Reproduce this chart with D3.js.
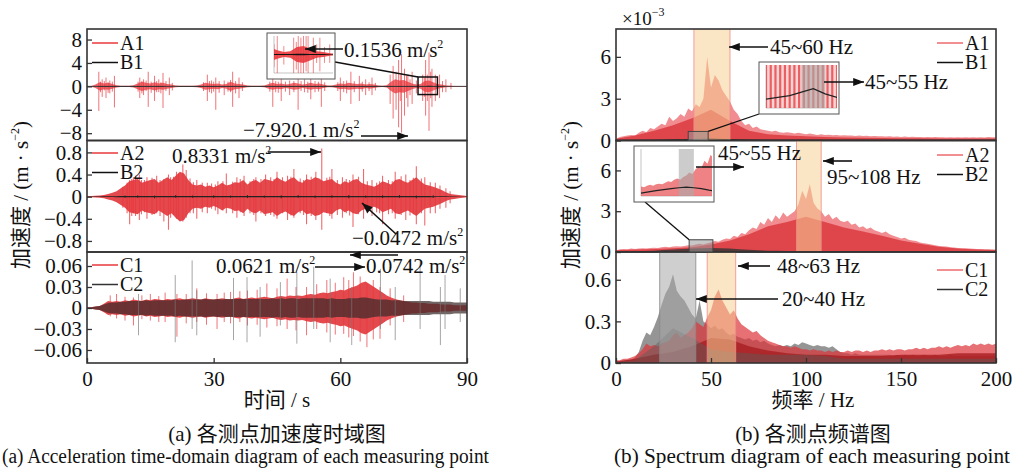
<!DOCTYPE html>
<html>
<head>
<meta charset="utf-8">
<script src="https://cdn.jsdelivr.net/npm/d3@7"></script>
<style>
  body { margin: 0; background: #fff; }
  text { font-family: "Liberation Serif", "Times New Roman", "Noto Sans CJK SC", serif; fill: #111; }
</style>
</head>
<body>
<svg id="chart" width="1014" height="468"></svg>
<script>
// ---------- data ----------
const timeTicks = [0, 30, 60, 90];
const freqTicks = [0, 50, 100, 150, 200];
const a1Ticks = [-8, -4, 0, 4, 8];
const a2Ticks = [-0.8, -0.4, 0, 0.4, 0.8];
const c1Ticks = [-0.06, -0.03, 0, 0.03, 0.06];
const specTicks12 = [0, 3, 6];
const specTicks3 = [0, 0.3, 0.6];

// time-domain envelopes, one value per second (0..90 s)
const envStep = 1;
const a1Env = [0.05,0.08,0.3,0.7,0.5,0.6,0.4,0.2,0.1,0.1, 0.12,0.2,0.5,0.8,0.6,0.5,0.7,0.5,0.6,0.4,
  0.3,0.15,0.1,0.1,0.1,0.1,0.15,0.3,0.6,0.5, 0.4,0.5,0.3,0.4,0.8,0.5,0.4,0.3,0.15,0.1,
  0.1,0.1,0.15,0.4,0.6,0.4,0.5,0.3,0.4,0.6, 0.5,0.3,0.4,0.6,0.4,0.5,0.3,0.15,0.15,0.3,
  0.5,0.4,0.6,0.5,0.4,0.5,0.3,0.4,0.3,0.15, 0.1,0.2,0.8,1.2,1.0,1.1,0.8,0.5,0.3,0.4,
  0.9,1.0,0.7,0.4,0.3,0.15,0.1,0.08,0.05,0.05, 0.05];
const a1Spikes = [[2.8,2.5,-4.2],[3.2,0.8,-1.0],[3.6,1.2,-1.8],[4.1,0.9,-0.7],[4.5,1.5,-2.0],[5.0,0.7,-1.1],[5.4,1.0,-1.2],[6.0,0.8,-0.9],[6.5,1.8,-3.6],
  [12.1,0.8,-0.9],[12.5,1.5,-2.0],[13.0,0.9,-1.2],[13.4,1.2,-1.5],[14.0,1.0,-0.8],[14.5,2.5,-3.5],[15.2,0.8,-1.1],[16,1.8,-2.5],[16.5,0.9,-1.0],
  [17,1.2,-1.0],[17.5,0.7,-1.2],[18,2.3,-3.7],[18.7,0.9,-0.8],[19.5,1.5,-1.5],[20.2,0.6,-0.7],
  [27.6,0.7,-0.8],[28.5,2.0,-2.5],[29.0,0.9,-1.0],[29.5,1.0,-1.2],[30.0,0.8,-0.9],[30.5,1.5,-4.0],[31.3,0.9,-1.1],[32.5,1.0,-1.5],
  [33.4,0.8,-0.9],[34.0,1.1,-1.0],[34.5,2.5,-3.5],[35.2,0.9,-1.2],[36,1.5,-2.0],[36.8,0.7,-0.8],
  [43.3,0.8,-0.9],[44,2.0,-3.5],[44.7,0.9,-1.0],[45.3,0.8,-1.1],[46,1.5,-2.5],[47.0,0.8,-0.9],[48,1.0,-1.5],[49.0,0.9,-1.0],[50,1.5,-4.0],
  [50.7,0.9,-0.8],[51.5,1.2,-1.0],[52.3,0.8,-1.1],[53,2.5,-2.2],[54.0,0.9,-1.0],[54.8,0.8,-0.9],[55.5,2.0,-3.5],[56.3,0.7,-0.8],
  [59.4,0.7,-0.8],[60,1.5,-2.5],[60.8,0.9,-1.0],[61.5,1.0,-1.2],[62.5,2.5,-3.0],[63.3,0.9,-1.0],[64.5,1.8,-2.5],[65.2,0.8,-0.9],
  [66,1.2,-1.5],[66.8,0.7,-0.8],[67.5,1.5,-1.5],[68.3,0.6,-0.7],
  [71.8,2.0,-3.0],[72.5,3.5,-5.5],[73.2,2.5,-4.0],[73.8,4.5,-7.0],[74.2,2.0,-2.5],[74.5,5.5,-7.9],[75.2,3.0,-5.0],[75.7,1.8,-2.0],
  [76,2.0,-3.5],[76.5,1.2,-1.5],[77,2.5,-3.0],[78.0,1.0,-1.2],
  [79.5,2.0,-2.5],[79.9,1.5,-1.8],[80.2,4.5,-5.0],[80.6,2.0,-2.5],[81,5.8,-7.6],[81.4,2.5,-2.0],[81.7,3.0,-3.5],[82.5,2.0,-2.5],
  [83.0,1.2,-1.0],[83.5,2.0,-2.0],[84.2,0.9,-1.0],[85,1.2,-1.0],[86.2,0.6,-0.5]];
const b1Env = [0.02,0.03,0.04,0.05,0.05,0.05,0.05,0.05,0.05,0.05,0.05,0.05,0.05,0.05,0.06,0.06,0.08,0.08,0.05,0.03,
  0.03,0.04,0.05,0.05,0.05,0.05,0.05,0.05,0.05,0.05,0.05,0.05,0.05,0.05,0.05,0.05,0.05,0.05,0.05,0.05,
  0.05,0.05,0.05,0.05,0.05,0.05,0.05,0.05,0.05,0.05,0.05,0.05,0.05,0.05,0.05,0.05,0.05,0.05,0.05,0.05,
  0.05,0.05,0.05,0.05,0.05,0.05,0.05,0.05,0.05,0.05,0.05,0.05,0.06,0.07,0.07,0.07,0.06,0.05,0.05,0.06,
  0.08,0.1,0.07,0.05,0.05,0.04,0.03,0.03,0.02,0.02,0.02];

const a2Env = [0.01,0.01,0.015,0.02,0.03,0.05,0.07,0.1,0.15,0.2, 0.28,0.3,0.32,0.25,0.28,0.3,0.32,0.25,0.3,0.35,
  0.3,0.38,0.45,0.42,0.3,0.22,0.2,0.22,0.18,0.2, 0.17,0.2,0.25,0.2,0.22,0.26,0.25,0.3,0.22,0.28,
  0.3,0.25,0.32,0.3,0.28,0.35,0.3,0.27,0.32,0.35, 0.28,0.25,0.32,0.3,0.35,0.33,0.28,0.3,0.32,0.25,
  0.22,0.28,0.25,0.3,0.32,0.25,0.22,0.2,0.18,0.22, 0.28,0.25,0.22,0.3,0.32,0.28,0.25,0.3,0.35,0.28,
  0.22,0.2,0.18,0.15,0.12,0.08,0.05,0.04,0.03,0.02, 0.01];
const a2Spikes = [[9.5,0.25,-0.3],[10.1,0.3,-0.5],[11.5,0.38,-0.35],[12.4,0.4,-0.42],[14.2,0.35,-0.4],[16.5,0.38,-0.3],
  [18.2,0.32,-0.45],[19.3,0.4,-0.6],[21.2,0.45,-0.4],[22.7,0.58,-0.45],[23.5,0.48,-0.38],[26,0.3,-0.4],[28.5,0.25,-0.3],
  [31,0.28,-0.32],[33,0.42,-0.3],[35.5,0.35,-0.38],[37.2,0.38,-0.35],[40,0.35,-0.45],[42.3,0.4,-0.35],[45,0.45,-0.4],
  [47.5,0.38,-0.42],[49,0.5,-0.38],[52,0.4,-0.5],[54.2,0.45,-0.42],[55.6,0.87,-0.6],[58,0.5,-0.4],[60.5,0.35,-0.38],
  [63,0.4,-0.55],[65.5,0.5,-0.4],[67.5,0.3,-0.35],[70,0.38,-0.5],[73,0.45,-0.4],[75.5,0.4,-0.42],[78,0.55,-0.5],
  [80,0.35,-0.52],[82.5,0.25,-0.3],[85,0.15,-0.2],
  [8.5,0.18,-0.2],[10.6,0.32,-0.35],[11,0.35,-0.3],[12.9,0.3,-0.32],[13.6,0.3,-0.28],[15.4,0.34,-0.33],[17.3,0.3,-0.35],
  [19.8,0.35,-0.38],[20.5,0.36,-0.33],[21.7,0.42,-0.4],[24.4,0.33,-0.3],[25.2,0.26,-0.3],[27.3,0.25,-0.28],[29.5,0.24,-0.22],
  [30.4,0.22,-0.25],[32.2,0.28,-0.25],[34.5,0.27,-0.3],[36.3,0.32,-0.28],[38.6,0.28,-0.3],[39.5,0.32,-0.33],[41.2,0.32,-0.3],
  [43.5,0.35,-0.33],[44.3,0.32,-0.36],[46.3,0.35,-0.3],[48.3,0.36,-0.34],[50.5,0.33,-0.3],[51.3,0.3,-0.33],[53.1,0.36,-0.35],
  [56.8,0.34,-0.3],[57.5,0.36,-0.35],[59.3,0.3,-0.33],[61.4,0.32,-0.3],[62.2,0.3,-0.34],[64.3,0.36,-0.32],[66.4,0.28,-0.3],
  [68.6,0.25,-0.28],[69.3,0.28,-0.3],[71.4,0.3,-0.32],[72.3,0.28,-0.3],[74.4,0.37,-0.33],[76.5,0.3,-0.34],[77.3,0.34,-0.32],
  [79.2,0.33,-0.3],[81.3,0.26,-0.3],[83.6,0.2,-0.22],[86,0.1,-0.12]];
const b2Env = [0.002,0.003,0.004,0.005,0.006,0.007,0.008,0.009,0.01,0.01, 0.011,0.011,0.012,0.012,0.012,0.012,0.012,0.012,0.012,0.012,
  0.012,0.012,0.012,0.012,0.012,0.012,0.012,0.012,0.012,0.012, 0.012,0.012,0.012,0.012,0.012,0.012,0.012,0.012,0.012,0.012,
  0.012,0.012,0.012,0.012,0.012,0.012,0.012,0.012,0.012,0.012, 0.012,0.012,0.012,0.012,0.012,0.012,0.012,0.012,0.012,0.012,
  0.012,0.012,0.012,0.012,0.012,0.012,0.012,0.012,0.012,0.012, 0.012,0.012,0.012,0.012,0.012,0.012,0.012,0.012,0.011,0.011,
  0.01,0.01,0.009,0.008,0.007,0.006,0.005,0.004,0.003,0.003, 0.002];
const b2Spikes = [[9,0.02,-0.02],[12,0.025,-0.02],[16,0.02,-0.03],[21,0.03,-0.02],[25,0.02,-0.02],[30,0.025,-0.025],
  [34,0.02,-0.02],[38,0.03,-0.025],[42,0.02,-0.02],[46,0.025,-0.03],[50,0.03,-0.02],[54,0.02,-0.025],[58,0.025,-0.02],
  [62,0.03,-0.03],[66,0.02,-0.02],[70,0.025,-0.025],[74,0.03,-0.02],[78,0.02,-0.03],[82,0.025,-0.02]];

const c1Env = [0.001,0.001,0.002,0.003,0.006,0.01,0.009,0.01,0.009,0.011, 0.01,0.012,0.011,0.01,0.012,0.011,0.013,0.012,0.011,0.013,
  0.012,0.013,0.014,0.012,0.013,0.014,0.013,0.012,0.014,0.013, 0.012,0.013,0.014,0.013,0.012,0.014,0.015,0.013,0.014,0.015,
  0.014,0.015,0.016,0.015,0.014,0.016,0.017,0.016,0.018,0.017, 0.018,0.017,0.019,0.02,0.019,0.021,0.022,0.021,0.023,0.024,
  0.026,0.025,0.028,0.03,0.032,0.036,0.038,0.034,0.03,0.026, 0.022,0.018,0.015,0.013,0.011,0.01,0.009,0.008,0.008,0.007,
  0.007,0.006,0.006,0.006,0.005,0.005,0.005,0.004,0.004,0.004, 0.004];
const c2Env = [0.001,0.001,0.002,0.003,0.005,0.007,0.008,0.008,0.009,0.009, 0.01,0.01,0.01,0.01,0.011,0.01,0.011,0.011,0.011,0.011,
  0.011,0.012,0.011,0.012,0.012,0.012,0.012,0.012,0.013,0.012, 0.012,0.013,0.012,0.013,0.013,0.013,0.013,0.013,0.013,0.013,
  0.013,0.013,0.013,0.013,0.014,0.013,0.014,0.013,0.014,0.014, 0.013,0.014,0.014,0.014,0.014,0.014,0.014,0.013,0.014,0.013,
  0.013,0.013,0.014,0.014,0.014,0.015,0.015,0.014,0.013,0.012, 0.012,0.012,0.011,0.011,0.011,0.01,0.01,0.01,0.01,0.01,
  0.01,0.01,0.009,0.009,0.009,0.009,0.009,0.008,0.008,0.008, 0.008];
const c1Spikes = [[5.5,0.018,-0.012],[7,0.02,-0.015],[9,0.016,-0.018],[11,0.015,-0.025],[13,0.018,-0.016],[15,0.02,-0.018],
  [17,0.017,-0.02],[18.5,0.022,-0.02],[21.3,0.02,-0.041],[23.5,0.02,-0.022],[26,0.028,-0.02],[28.3,0.021,-0.024],
  [30.8,0.02,-0.03],[32.5,0.022,-0.02],[34,0.023,-0.022],[36.2,0.024,-0.02],[38,0.025,-0.025],[40.3,0.026,-0.024],
  [42.6,0.035,-0.028],[45,0.028,-0.026],[47.4,0.042,-0.03],[49.5,0.03,-0.032],[52,0.03,-0.039],[54.4,0.034,-0.03],
  [56.8,0.04,-0.035],[58.8,0.036,-0.038],[60.8,0.044,-0.037],[62,0.04,-0.042],[63.1,0.051,-0.04],[64.7,0.045,-0.048],
  [66.3,0.035,-0.056],[67.8,0.04,-0.045],[69.4,0.03,-0.044],[71.8,0.028,-0.025],[75,0.018,-0.02]];
const c2Spikes = [[12.2,0.02,-0.039],[20.9,0.047,-0.049],[24.9,0.068,-0.03],[26,0.025,-0.039],[34.7,0.043,-0.046],
  [37.9,0.044,-0.049],[41,0.03,-0.041],[45.8,0.037,-0.025],[49.7,0.051,-0.051],[53.7,0.059,-0.03],[57.6,0.042,-0.049],
  [62.7,0.03,-0.053],[69.5,0.056,-0.03],[73,0.03,-0.046],[78.9,0.068,-0.03],[83.7,0.03,-0.053],[84.8,0.047,-0.03],[88.4,0.028,-0.02]];

// spectra: peak envelope every 2 Hz, dense core every 10 Hz, black series every 5 Hz
const peakStep = 2, coreStep = 10, lowStep = 5;
const a1Peak = [0.1,0.25,0.3,0.35,0.4,0.35,0.55,0.7,0.6,0.9, 0.8,1.0,1.2,1.1,1.7,1.4,1.6,1.9,1.7,2.3,
  2.1,2.6,2.4,3.0,6.0,3.8,4.7,4.3,3.6,3.2, 2.8,2.2,1.9,1.4,1.1,1.2,0.9,1.0,0.8,0.75,
  0.7,0.65,0.7,0.6,0.55,0.6,0.55,0.5,0.55,0.5, 0.45,0.5,0.45,0.4,0.45,0.4,0.42,0.38,0.4,0.35,
  0.38,0.35,0.36,0.33,0.35,0.32,0.34,0.3,0.32,0.3, 0.31,0.28,0.3,0.27,0.29,0.26,0.28,0.25,0.27,0.25,
  0.26,0.24,0.25,0.23,0.25,0.23,0.24,0.22,0.24,0.22, 0.23,0.22,0.23,0.21,0.23,0.22,0.24,0.22,0.25,0.23, 0.24];
const a1Core = [0.12,0.35,0.7,1.1,1.6,2.2,1.4,0.7,0.45,0.36,0.3,0.26,0.22,0.2,0.18,0.17,0.16,0.15,0.15,0.15,0.15];
const b1Low = [0.01,0.015,0.02,0.025,0.03,0.04,0.05,0.06,0.07,0.09,0.11,0.08,0.06,0.05,0.04,0.035,0.03,0.03,0.03,0.03,
  0.03,0.03,0.025,0.025,0.025,0.025,0.025,0.02,0.02,0.02,0.02,0.02,0.02,0.02,0.02,0.02,0.02,0.02,0.02,0.02,0.02];

const a2Peak = [0.1,0.2,0.22,0.2,0.25,0.22,0.25,0.28,0.25,0.3, 0.32,0.3,0.35,0.38,0.35,0.4,0.42,0.4,0.45,0.5,
  0.48,0.55,0.6,0.55,0.65,0.7,0.8,0.75,0.9,1.0, 0.95,1.2,1.1,1.4,1.3,1.6,1.8,1.7,2.2,2.0,
  2.5,2.2,2.7,2.4,2.9,2.6,2.8,3.0,3.5,4.5, 3.9,5.0,3.6,3.2,3.0,2.6,2.8,2.4,2.6,2.3,
  2.2,2.3,2.0,2.1,1.8,1.9,1.7,1.8,1.6,1.5, 1.4,1.5,1.3,1.2,1.1,1.0,1.05,0.9,0.85,0.8,
  0.7,0.65,0.6,0.55,0.5,0.45,0.42,0.4,0.35,0.33, 0.3,0.28,0.27,0.25,0.24,0.22,0.22,0.2,0.2,0.19, 0.18];
const a2Core = [0.12,0.18,0.22,0.28,0.35,0.55,0.85,1.3,1.9,2.2,2.6,2.2,1.8,1.5,1.2,0.85,0.6,0.38,0.25,0.18,0.14];
const b2Low = [0.02,0.04,0.06,0.08,0.1,0.14,0.18,0.22,0.25,0.28,0.3,0.28,0.25,0.2,0.16,0.12,0.1,0.09,0.08,0.08,
  0.07,0.07,0.06,0.06,0.05,0.05,0.05,0.05,0.04,0.04,0.04,0.04,0.04,0.04,0.04,0.04,0.03,0.03,0.03,0.03,0.03];

const c1Peak = [0.02,0.02,0.03,0.03,0.04,0.05,0.07,0.1,0.14,0.12, 0.13,0.12,0.14,0.15,0.16,0.2,0.22,0.18,0.2,0.22,
  0.25,0.3,0.28,0.26,0.33,0.38,0.48,0.53,0.45,0.4, 0.35,0.38,0.32,0.28,0.26,0.24,0.22,0.23,0.2,0.18,
  0.16,0.15,0.14,0.13,0.12,0.12,0.11,0.12,0.11,0.1, 0.1,0.09,0.1,0.09,0.09,0.08,0.09,0.08,0.09,0.08,
  0.08,0.09,0.08,0.09,0.09,0.08,0.09,0.08,0.09,0.09, 0.1,0.09,0.1,0.09,0.1,0.1,0.09,0.1,0.1,0.11,
  0.1,0.11,0.1,0.11,0.11,0.12,0.11,0.12,0.11,0.12, 0.13,0.12,0.13,0.12,0.14,0.13,0.14,0.13,0.14,0.13, 0.14];
const c1Core = [0.01,0.03,0.06,0.08,0.12,0.18,0.17,0.12,0.09,0.07,0.06,0.06,0.05,0.05,0.05,0.06,0.06,0.06,0.07,0.07,0.07];
const c2Peak = [0.01,0.01,0.015,0.02,0.02,0.04,0.08,0.16,0.22,0.2, 0.26,0.33,0.42,0.5,0.55,0.64,0.52,0.48,0.45,0.4,
  0.35,0.32,0.45,0.3,0.28,0.25,0.27,0.24,0.25,0.22, 0.2,0.21,0.19,0.18,0.17,0.18,0.16,0.17,0.15,0.16,
  0.14,0.13,0.12,0.13,0.12,0.13,0.12,0.14,0.13,0.15, 0.14,0.13,0.12,0.13,0.12,0.12,0.11,0.12,0.1,0.08,
  0.07,0.07,0.06,0.07,0.06,0.06,0.06,0.06,0.06,0.06, 0.06,0.06,0.06,0.05,0.06,0.05,0.06,0.05,0.06,0.05,
  0.05,0.06,0.05,0.05,0.06,0.05,0.05,0.05,0.06,0.05, 0.05,0.05,0.05,0.05,0.05,0.05,0.05,0.05,0.05,0.05, 0.05];
const c2Core = [0.005,0.02,0.12,0.25,0.18,0.1,0.08,0.07,0.06,0.06,0.06,0.05,0.03,0.03,0.03,0.03,0.03,0.03,0.03,0.03,0.03];

// highlighted frequency bands (Hz) and zoom windows
const bandA1 = [41, 60], bandA2 = [95, 108], bandC1 = [48, 63], bandC2 = [23, 42];
const zoomBand = [45, 55];
const zoomBoxR1 = [38, 48.5, 0, 0.65], zoomBoxR2 = [38.5, 51, 0, 0.9];
const zoomBoxL1 = [78.4, 83, -1.4, 1.6];

// ---------- layout ----------
const svg = d3.select("#chart");
const defs = svg.append("defs");
const rows = [[29, 140.5], [140.5, 252], [252, 363]];
const red = "#e8383d";
const fontSize = 21;

defs.append("marker").attr("id", "arrow")
  .attr("viewBox", "0 -5 12 10").attr("refX", 12).attr("refY", 0)
  .attr("markerWidth", 12).attr("markerHeight", 9)
  .attr("markerUnits", "userSpaceOnUse").attr("orient", "auto")
  .append("path").attr("d", "M0,-4.5L12,0L0,4.5Z").attr("fill", "#111");

const xTime = d3.scaleLinear().domain([0, 90]).range([87, 467]);
const xFreq = d3.scaleLinear().domain([0, 200]).range([616, 996]);

const fmt = d => d < 0 ? "\u2212" + Math.abs(d) : String(d);

let clipCount = 0;
function panel(x, row, yDomain, ticks) {
  const [top, bottom] = rows[row];
  const y = d3.scaleLinear().domain(yDomain).range([bottom, top]);
  const id = "clip" + (clipCount++);
  defs.append("clipPath").attr("id", id).append("rect")
    .attr("x", x.range()[0]).attr("y", top)
    .attr("width", x.range()[1] - x.range()[0]).attr("height", bottom - top);
  const g = svg.append("g").attr("clip-path", `url(#${id})`);
  return { x, y, g, top, bottom, ticks };
}

function frame(p) {
  // y axis with inward ticks
  const ax = svg.append("g").attr("transform", `translate(${p.x.range()[0]},0)`)
    .call(d3.axisLeft(p.y).tickValues(p.ticks).tickSize(-5).tickPadding(5).tickFormat(fmt));
  ax.select(".domain").remove();
  ax.selectAll("line").attr("stroke", "#333").attr("stroke-width", 1.3);
  ax.selectAll("text").attr("font-size", fontSize)
    .attr("font-family", "Liberation Serif, Times New Roman, serif").attr("fill", "#111");
  svg.append("rect").attr("x", p.x.range()[0]).attr("y", p.top)
    .attr("width", p.x.range()[1] - p.x.range()[0]).attr("height", p.bottom - p.top)
    .attr("fill", "none").attr("stroke", "#333").attr("stroke-width", 1.6);
}

function xAxis(p, ticks) {
  const ax = svg.append("g").attr("transform", `translate(0,${p.bottom})`)
    .call(d3.axisBottom(p.x).tickValues(ticks).tickSize(-5).tickPadding(8));
  ax.select(".domain").remove();
  ax.selectAll("line").attr("stroke", "#333").attr("stroke-width", 1.3);
  ax.selectAll("text").attr("font-size", fontSize)
    .attr("font-family", "Liberation Serif, Times New Roman, serif").attr("fill", "#111");
}

function envelope(g, x, y, values, step, color, opacity) {
  const area = d3.area().x((d, i) => x(i * step)).y0(d => y(-d)).y1(d => y(d));
  g.append("path").datum(values).attr("d", area).attr("fill", color).attr("fill-opacity", opacity);
}

function spikes(g, x, y, list, color, opacity, width) {
  g.selectAll(null).data(list).join("line")
    .attr("x1", d => x(d[0])).attr("x2", d => x(d[0]))
    .attr("y1", d => y(d[1])).attr("y2", d => y(d[2]))
    .attr("stroke", color).attr("stroke-opacity", opacity).attr("stroke-width", width);
}

function spectrum(g, x, y, values, step, color, opacity) {
  const area = d3.area().x((d, i) => x(i * step)).y0(y(0)).y1(d => y(d));
  g.append("path").datum(values).attr("d", area).attr("fill", color).attr("fill-opacity", opacity);
}

function specLine(g, x, y, values, step, color, width) {
  const line = d3.line().x((d, i) => x(i * step)).y(d => y(d));
  g.append("path").datum(values).attr("d", line).attr("fill", "none")
    .attr("stroke", color).attr("stroke-width", width);
}

function band(g, p, range, fill, edge) {
  g.append("rect").attr("x", p.x(range[0])).attr("y", p.top)
    .attr("width", p.x(range[1]) - p.x(range[0])).attr("height", p.bottom - p.top)
    .attr("fill", fill).attr("fill-opacity", 0.55);
  [range[0], range[1]].forEach(v => g.append("line")
    .attr("x1", p.x(v)).attr("x2", p.x(v)).attr("y1", p.top).attr("y2", p.bottom)
    .attr("stroke", edge).attr("stroke-width", 1).attr("stroke-opacity", 0.8));
}

function legend(x0, y0, items) {
  items.forEach((it, i) => {
    const yy = y0 + i * 19.5;
    svg.append("line").attr("x1", x0).attr("x2", x0 + 26).attr("y1", yy).attr("y2", yy)
      .attr("stroke", it.color).attr("stroke-width", 1.5);
    svg.append("text").attr("x", x0 + 28).attr("y", yy + 6.5).attr("font-size", 20).text(it.name);
  });
}

function label(x, y, main, sup, size) {
  const t = svg.append("text").attr("x", x).attr("y", y).attr("font-size", size || fontSize);
  t.append("tspan").text(main);
  if (sup) t.append("tspan").attr("dy", -9).attr("font-size", 12).text(sup);
  return t;
}

function arrow(x1, y1, x2, y2) {
  svg.append("line").attr("x1", x1).attr("y1", y1).attr("x2", x2).attr("y2", y2)
    .attr("stroke", "#111").attr("stroke-width", 1.6).attr("marker-end", "url(#arrow)");
}

function insetBox(x, y, w, h) {
  svg.append("rect").attr("x", x).attr("y", y).attr("width", w).attr("height", h)
    .attr("fill", "#fff").attr("stroke", "#555").attr("stroke-width", 1);
  const id = "clip" + (clipCount++);
  defs.append("clipPath").attr("id", id).append("rect")
    .attr("x", x + 7).attr("y", y + 3).attr("width", w - 9).attr("height", h - 9);
  svg.append("path").attr("d", `M${x + 7},${y + 3}V${y + h - 6}H${x + w - 2}`)
    .attr("fill", "none").attr("stroke", "#aaa").attr("stroke-width", 0.7);
  return svg.append("g").attr("clip-path", `url(#${id})`);
}

// ---------- (a) time domain ----------
const L1 = panel(xTime, 0, [-9.25, 9.8], a1Ticks);
envelope(L1.g, xTime, L1.y, a1Env, envStep, red, 0.75);
spikes(L1.g, xTime, L1.y, a1Spikes, red, 0.7, 1);
envelope(L1.g, xTime, L1.y, b1Env, envStep, "#222", 1);
L1.g.append("line").attr("x1", 87).attr("x2", 467).attr("y1", L1.y(0)).attr("y2", L1.y(0))
  .attr("stroke", "#333").attr("stroke-width", 0.8);
frame(L1);

const L2 = panel(xTime, 1, [-1.0, 1.015], a2Ticks);
envelope(L2.g, xTime, L2.y, a2Env, envStep, "#e23a3e", 0.92);
spikes(L2.g, xTime, L2.y, a2Spikes, red, 0.75, 1.1);
envelope(L2.g, xTime, L2.y, b2Env, envStep, "#222", 1);
spikes(L2.g, xTime, L2.y, b2Spikes, "#222", 0.9, 1);
frame(L2);

const L3 = panel(xTime, 2, [-0.0786, 0.080], c1Ticks);
envelope(L3.g, xTime, L3.y, c1Env, envStep, "#e23a3e", 0.92);
spikes(L3.g, xTime, L3.y, c1Spikes, red, 0.7, 1);
envelope(L3.g, xTime, L3.y, c2Env, envStep, "#3b2a2a", 0.72);
spikes(L3.g, xTime, L3.y, c2Spikes, "#777", 0.65, 1);
frame(L3);
xAxis(L3, timeTicks);

legend(92, 43, [{ name: "A1", color: red }, { name: "B1", color: "#111" }]);
legend(92, 153, [{ name: "A2", color: red }, { name: "B2", color: "#111" }]);
legend(92, 265, [{ name: "C1", color: red }, { name: "C2", color: "#333" }]);

// zoom box on A1 and its inset
svg.append("rect").attr("x", xTime(zoomBoxL1[0])).attr("y", L1.y(zoomBoxL1[3]))
  .attr("width", xTime(zoomBoxL1[1]) - xTime(zoomBoxL1[0]))
  .attr("height", L1.y(zoomBoxL1[2]) - L1.y(zoomBoxL1[3]))
  .attr("fill", "none").attr("stroke", "#111").attr("stroke-width", 1.5);
svg.append("line").attr("x1", 335).attr("y1", 62).attr("x2", xTime(zoomBoxL1[0])).attr("y2", L1.y(zoomBoxL1[3]))
  .attr("stroke", "#111").attr("stroke-width", 1.3);
const inL = insetBox(267, 33, 68, 46);
const xInL = d3.scaleLinear().domain([76.5, 85.5]).range([274, 333]);
const yInL = d3.scaleLinear().domain([-2.2, 2.2]).range([73, 36]);
envelope(inL, xInL, yInL, a1Env, envStep, red, 0.9);
spikes(inL, xInL, yInL, a1Spikes, red, 0.6, 1);
envelope(inL, xInL, yInL, b1Env, envStep, "#111", 1);

label(344, 57, "0.1536 m/s", "2");
arrow(343, 49, 305, 49);
label(243, 137, "\u22127.920.1 m/s", "2");
arrow(361, 136, 408, 136);
label(172, 163, "0.8331 m/s", "2");
arrow(268, 152, 321, 152);
label(352, 245, "\u22120.0472 m/s", "2");
arrow(396, 234, 362, 203);
label(216, 273, "0.0621 m/s", "2");
arrow(315, 267, 365, 267);
label(366, 273, "0.0742 m/s", "2");
arrow(398, 255, 350, 255);

// ---------- (b) spectra ----------
const R1 = panel(xFreq, 0, [0, 8.0], specTicks12);
spectrum(R1.g, xFreq, R1.y, a1Peak, peakStep, "#ee7175", 0.8);
spectrum(R1.g, xFreq, R1.y, a1Core, coreStep, "#dc3a3f", 0.85);
specLine(R1.g, xFreq, R1.y, b1Low, lowStep, "#222", 1);
band(R1.g, R1, bandA1, "#f5cf94", "#f08a8a");
frame(R1);

const R2 = panel(xFreq, 1, [0, 8.2], specTicks12);
spectrum(R2.g, xFreq, R2.y, a2Peak, peakStep, "#ee7175", 0.8);
spectrum(R2.g, xFreq, R2.y, a2Core, coreStep, "#dc3a3f", 0.85);
spectrum(R2.g, xFreq, R2.y, b2Low, lowStep, "#333", 0.8);
band(R2.g, R2, bandA2, "#f5cf94", "#f08a8a");
frame(R2);

const R3 = panel(xFreq, 2, [0, 0.8], specTicks3);
spectrum(R3.g, xFreq, R3.y, c2Peak, peakStep, "#7a7a7a", 0.8);
spectrum(R3.g, xFreq, R3.y, c1Peak, peakStep, "#dc3338", 0.7);
spectrum(R3.g, xFreq, R3.y, c1Core, coreStep, "#a81e22", 0.8);
spectrum(R3.g, xFreq, R3.y, c2Core, coreStep, "#5a5a5a", 0.45);
band(R3.g, R3, bandC2, "#a8a8a8", "#888");
band(R3.g, R3, bandC1, "#f5cf94", "#f08a8a");
frame(R3);
xAxis(R3, freqTicks);

legend(937, 43, [{ name: "A1", color: "#ee6a6e" }, { name: "B1", color: "#111" }]);
legend(937, 155, [{ name: "A2", color: "#ee6a6e" }, { name: "B2", color: "#111" }]);
legend(937, 270, [{ name: "C1", color: "#ee6a6e" }, { name: "C2", color: "#333" }]);

// zoom boxes + insets on the spectra
function zoomBox(p, b) {
  svg.append("rect").attr("x", p.x(b[0])).attr("y", p.y(b[3]))
    .attr("width", p.x(b[1]) - p.x(b[0])).attr("height", p.y(b[2]) - p.y(b[3]))
    .attr("fill", "#999").attr("fill-opacity", 0.55).attr("stroke", "#444").attr("stroke-width", 1);
}
zoomBox(R1, zoomBoxR1);
svg.append("line").attr("x1", xFreq(zoomBoxR1[1])).attr("y1", R1.y(zoomBoxR1[3]))
  .attr("x2", 759).attr("y2", 114).attr("stroke", "#111").attr("stroke-width", 1.3);
const inR1 = insetBox(759, 62, 80, 52);
const xInR1 = d3.scaleLinear().domain([30, 60]).range([766, 837]);
const yInR1 = d3.scaleLinear().domain([0, 0.25]).range([108, 64]);
spectrum(inR1, xInR1, yInR1, a1Peak, peakStep, "#f6b8b8", 0.6);
spikes(inR1, xInR1, yInR1, a1Peak.map((v, i) => [i * peakStep, v, 0]), "#e54a4e", 0.85, 2.2);
inR1.append("rect").attr("x", xInR1(zoomBand[0])).attr("y", 62)
  .attr("width", xInR1(zoomBand[1]) - xInR1(zoomBand[0])).attr("height", 52)
  .attr("fill", "#aaa").attr("fill-opacity", 0.6);
specLine(inR1, xInR1, yInR1, b1Low, lowStep, "#222", 1.2);

zoomBox(R2, zoomBoxR2);
svg.append("line").attr("x1", 645).attr("y1", 202).attr("x2", xFreq(zoomBoxR2[0])).attr("y2", R2.y(zoomBoxR2[3]))
  .attr("stroke", "#111").attr("stroke-width", 1.3);
const inR2 = insetBox(634, 146, 80, 56);
const xInR2 = d3.scaleLinear().domain([20, 67]).range([641, 712]);
const yInR2 = d3.scaleLinear().domain([0, 1.6]).range([196, 149]);
spectrum(inR2, xInR2, yInR2, a2Peak, peakStep, "#e8585c", 0.75);
inR2.append("rect").attr("x", xInR2(zoomBand[0])).attr("y", 146)
  .attr("width", xInR2(zoomBand[1]) - xInR2(zoomBand[0])).attr("height", 56)
  .attr("fill", "#aaa").attr("fill-opacity", 0.6);
specLine(inR2, xInR2, yInR2, b2Low, lowStep, "#222", 1.2);

label(622, 25, "\u00d710", "\u22123", 19);
arrow(768, 47, 729, 47);
label(770, 54, "45~60 Hz");
arrow(824, 82, 864, 82);
label(865, 89, "45~55 Hz");
label(718, 160, "45~55 Hz");
arrow(696, 167, 744, 167);
arrow(852, 161, 823, 161);
label(827, 184, "95~108 Hz");
arrow(770, 266, 738, 266);
label(777, 273, "48~63 Hz");
arrow(778, 299, 696, 299);
label(782, 306, "20~40 Hz");

// ---------- titles ----------
svg.append("text").attr("x", 277).attr("y", 407).attr("text-anchor", "middle").attr("font-size", fontSize).text("时间 / s");
svg.append("text").attr("x", 813).attr("y", 407).attr("text-anchor", "middle").attr("font-size", fontSize).text("频率 / Hz");
svg.append("text").attr("x", 277).attr("y", 441).attr("text-anchor", "middle").attr("font-size", fontSize).text("(a) 各测点加速度时域图");
svg.append("text").attr("x", 813).attr("y", 441).attr("text-anchor", "middle").attr("font-size", fontSize).text("(b) 各测点频谱图");
svg.append("text").attr("x", 2).attr("y", 463).attr("font-size", 20)
  .attr("textLength", 487).attr("lengthAdjust", "spacingAndGlyphs")
  .text("(a) Acceleration time-domain diagram of each measuring point");
svg.append("text").attr("x", 614).attr("y", 463).attr("font-size", 20)
  .attr("textLength", 396).attr("lengthAdjust", "spacingAndGlyphs")
  .text("(b) Spectrum diagram of each measuring point");

function yTitle(x, y) {
  const t = svg.append("text").attr("transform", `translate(${x},${y}) rotate(-90)`)
    .attr("text-anchor", "middle").attr("font-size", fontSize);
  t.append("tspan").text("加速度 / (m \u00b7 s");
  t.append("tspan").attr("dy", -9).attr("font-size", 12).text("\u22122");
  t.append("tspan").attr("dy", 9).text(")");
}
yTitle(28, 195);
yTitle(578, 195);
</script>
</body>
</html>
